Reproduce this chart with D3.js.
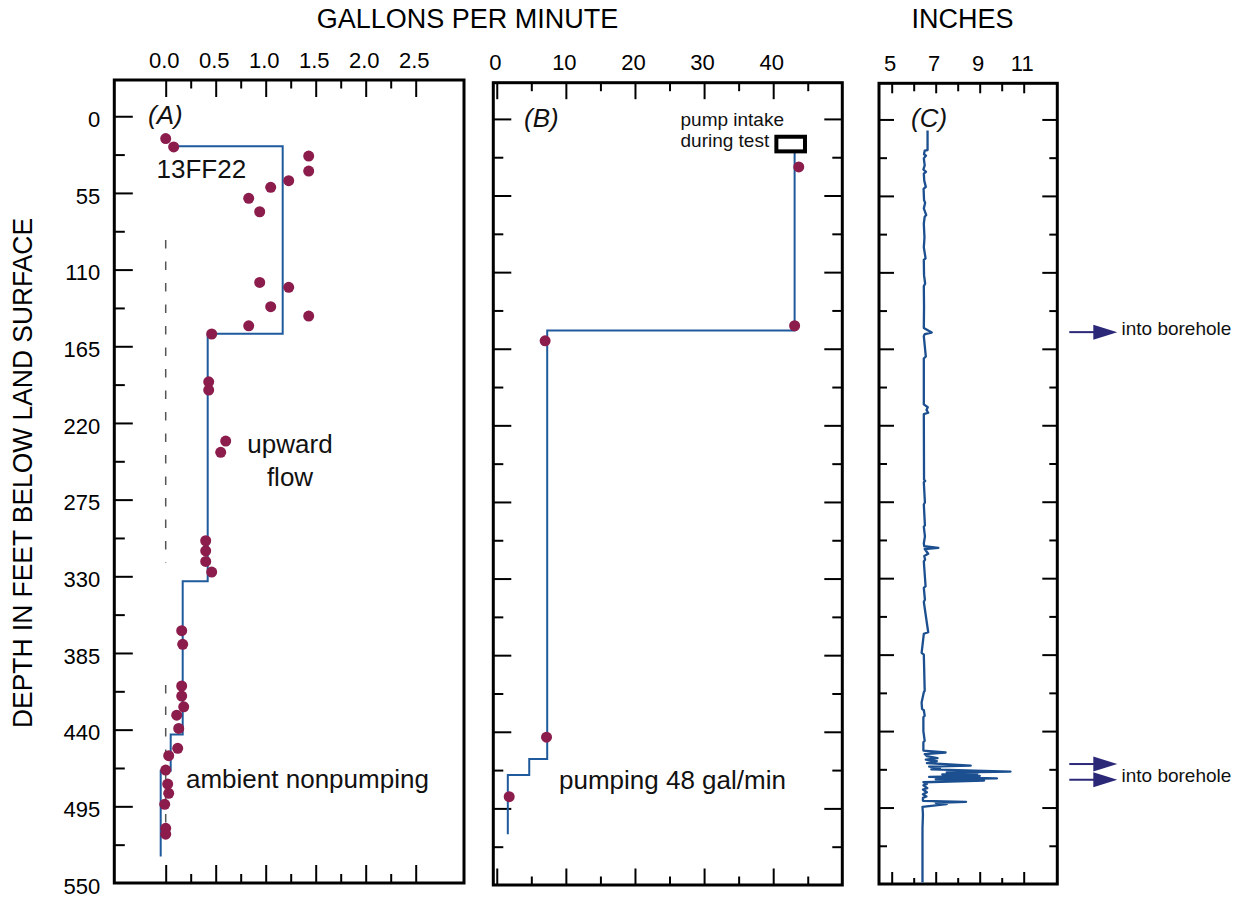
<!DOCTYPE html>
<html>
<head>
<meta charset="utf-8">
<script src="https://cdn.jsdelivr.net/npm/d3@7"></script>
<style>
  html, body { margin: 0; padding: 0; background: #fff; }
  svg { display: block; font-family: "Liberation Sans", Arial, Helvetica, sans-serif; }
</style>
</head>
<body>
<svg id="chart" width="1246" height="902"></svg>
<script>
// ---------------- data ----------------
const depthMajorTicks = [0, 55, 110, 165, 220, 275, 330, 385, 440, 495, 550];
const depthMinorTicks = [27.5, 82.5, 137.5, 192.5, 247.5, 302.5, 357.5, 412.5, 467.5, 522.5];
const gpmTicksA = [0.0, 0.5, 1.0, 1.5, 2.0, 2.5];
const gpmMinorA = [0.25, 0.75, 1.25, 1.75, 2.25];
const gpmTicksB = [0, 10, 20, 30, 40];
const gpmMinorB = [5, 15, 25, 35, 45];
const inchTicks = [5, 7, 9, 11];
const inchMinor = [6, 8, 10];

// (A) ambient nonpumping: measured flow [gal/min, depth ft]
const ambientPoints = [
  [0.00, 16], [0.08, 22], [1.43, 28.6], [1.43, 39.3], [1.23, 46.2], [1.05, 51],
  [0.83, 58.9], [0.94, 68.5], [0.94, 119.2], [1.23, 122.7], [1.05, 136.6], [1.43, 143.3],
  [0.83, 150.3], [0.46, 156.2], [0.43, 190.5], [0.43, 196.4], [0.60, 233], [0.55, 241.1],
  [0.40, 304.5], [0.40, 311.7], [0.40, 319.3], [0.46, 327], [0.16, 369], [0.17, 378.8],
  [0.16, 408.7], [0.16, 415.9], [0.18, 423.6], [0.11, 429.6], [0.13, 439.1], [0.12, 453.4],
  [0.03, 458.7], [0.00, 469], [0.02, 479], [0.03, 485.7], [-0.01, 493.6], [0.00, 510.8], [0.00, 515]
];
const ambientProfile = [
  [0.03, 21.5], [1.17, 21.5], [1.17, 156], [0.42, 156], [0.42, 333.5], [0.17, 333.5],
  [0.17, 443.5], [0.05, 443.5], [0.05, 469.5], [-0.05, 469.5], [-0.05, 531]
];
const zeroFlowDashes = [[88.8, 320.5], [408, 515]];

// (B) pumping 48 gal/min
const pumpingPoints = [[43.7, 34.5], [43.1, 148.5], [7.0, 159.3], [7.2, 443.9], [1.8, 486.6]];
const pumpingProfile = [
  [43.1, 23.3], [43.1, 151.9], [7.3, 151.9], [7.3, 459.5], [4.7, 459.5], [4.7, 471],
  [1.6, 471], [1.6, 513.6]
];
const pumpIntake = { x0: 40.46, x1: 44.6, d0: 12.8, d1: 23.3 };

// (C) caliper log [inches, depth ft]
const caliperLog = [
  [6.63, 8], [6.63, 22], [6.50, 22.5], [6.47, 25], [6.56, 26], [6.46, 28], [6.50, 33], [6.44, 36],
  [6.56, 37.7], [6.46, 39], [6.48, 44], [6.55, 48.5], [6.45, 50], [6.47, 58], [6.52, 60], [6.46, 64],
  [6.57, 68.8], [6.50, 70], [6.46, 75], [6.49, 85], [6.46, 92], [6.54, 99.9], [6.46, 101], [6.47, 112],
  [6.52, 118], [6.46, 120], [6.47, 135], [6.46, 150], [6.82, 153.3], [6.50, 154.5], [6.46, 156],
  [6.55, 170.5], [6.46, 172], [6.46, 205], [6.64, 207], [6.58, 209], [6.66, 211], [6.46, 212],
  [6.47, 259], [6.52, 260], [6.46, 261], [6.51, 275.6], [6.46, 277], [6.51, 292], [6.46, 293],
  [6.51, 300], [6.46, 305], [6.48, 307], [7.12, 308.2], [6.50, 309], [6.66, 312.4], [6.48, 314],
  [6.52, 316.7], [6.46, 318], [6.54, 335.8], [6.46, 337], [6.51, 345.5], [6.46, 347], [6.66, 368.9],
  [6.46, 370], [6.36, 383.7], [6.46, 385], [6.50, 411], [6.46, 412], [6.36, 419.5], [6.38, 424],
  [6.46, 425], [6.50, 429], [6.44, 430], [6.44, 440], [6.50, 447], [6.44, 448], [6.44, 454],
  [7.45, 455.4], [6.50, 456.5], [6.60, 458], [7.08, 459.5], [6.55, 460.5], [7.05, 461.6], [6.60, 463],
  [8.59, 464.8], [6.70, 465.5], [7.20, 466.4], [6.80, 467.5], [10.40, 469.1], [7.50, 469.8],
  [8.90, 470.5], [7.30, 471.2], [9.00, 472.2], [6.70, 473], [9.78, 474], [7.00, 474.8], [9.20, 475.6],
  [6.44, 476.8], [6.60, 478], [6.44, 479], [6.62, 481], [6.42, 482], [6.60, 484], [6.42, 485.5],
  [6.58, 487], [6.42, 488], [6.42, 490.2], [8.38, 490.9], [7.00, 491.6], [7.50, 492.6], [6.40, 494.5],
  [6.42, 500], [6.40, 510], [6.40, 549]
];
const inflowDepths = [[153], [463.7, 475]];

// ---------------- layout ----------------
const svg = d3.select("#chart");
const FONT = '"Liberation Sans", Arial, Helvetica, sans-serif';
const DOT = "#8b1c4c", LINE = "#1f5a9c", TRACE = "#1b4f8f", ARROW = "#2b2878";

const panels = {
  A: { x: d3.scaleLinear().domain([-0.514, 2.983]).range([114.3, 464]),
       y: d3.scaleLinear().domain([-26, 550]).range([80, 883]) },
  B: { x: d3.scaleLinear().domain([-0.5, 50]).range([493.3, 842.3]),
       y: d3.scaleLinear().domain([-26, 550]).range([82.7, 885]) },
  C: { x: d3.scaleLinear().domain([4.423, 12.527]).range([879, 1057.3]),
       y: d3.scaleLinear().domain([-26, 550]).range([83.3, 884]) }
};

function styleAxis(g, size) {
  g.select(".domain").remove();
  g.selectAll(".tick line").attr("stroke", "#000").attr("stroke-width", 2);
  g.selectAll(".tick text").attr("fill", "#000").style("font-family", FONT).style("font-size", size + "px");
}

function drawFrame(p, opts) {
  const [x0, x1] = p.x.range(), [y0, y1] = p.y.range();
  const g = svg.append("g");
  // x ticks top (major + minor)
  const topMaj = g.append("g").attr("transform", `translate(0,${y0})`)
    .call(d3.axisTop(p.x).tickValues(opts.xMajor).tickSize(-opts.xMajLen)
      .tickPadding(12.5).tickFormat(opts.xFormat));
  styleAxis(topMaj, 22);
  topMaj.selectAll(".tick text").attr("dx", -2);
  const topMin = g.append("g").attr("transform", `translate(0,${y0})`)
    .call(d3.axisTop(p.x).tickValues(opts.xMinor).tickSize(-opts.xMinLen).tickFormat(""));
  styleAxis(topMin, 22);
  // x ticks bottom
  const botMaj = g.append("g").attr("transform", `translate(0,${y1})`)
    .call(d3.axisBottom(p.x).tickValues(opts.xMajor).tickSize(-opts.xMajBot).tickFormat(""));
  styleAxis(botMaj, 22);
  const botMin = g.append("g").attr("transform", `translate(0,${y1})`)
    .call(d3.axisBottom(p.x).tickValues(opts.xMinor).tickSize(-opts.xMinBot).tickFormat(""));
  styleAxis(botMin, 22);
  // y ticks left
  const yMaj = depthMajorTicks.filter(d => d < 550);
  const leftMaj = g.append("g").attr("transform", `translate(${x0},0)`)
    .call(d3.axisLeft(p.y).tickValues(opts.yLabels ? depthMajorTicks : yMaj).tickSize(-opts.yMajLen)
      .tickPadding(14).tickFormat(opts.yLabels ? d3.format("d") : ""));
  styleAxis(leftMaj, 22);
  leftMaj.selectAll(".tick text").attr("dy", "0.47em");
  leftMaj.selectAll(".tick").filter(d => d === 550).select("line").remove();
  const leftMin = g.append("g").attr("transform", `translate(${x0},0)`)
    .call(d3.axisLeft(p.y).tickValues(depthMinorTicks).tickSize(-opts.yMinLen).tickFormat(""));
  styleAxis(leftMin, 22);
  if (opts.rightTicks) {
    const rightMaj = g.append("g").attr("transform", `translate(${x1},0)`)
      .call(d3.axisRight(p.y).tickValues(yMaj).tickSize(-opts.yMajLen).tickFormat(""));
    styleAxis(rightMaj, 22);
    const rightMin = g.append("g").attr("transform", `translate(${x1},0)`)
      .call(d3.axisRight(p.y).tickValues(depthMinorTicks).tickSize(-opts.yMinLen).tickFormat(""));
    styleAxis(rightMin, 22);
  }
  g.append("rect").attr("x", x0).attr("y", y0).attr("width", x1 - x0).attr("height", y1 - y0)
    .attr("fill", "none").attr("stroke", "#000").attr("stroke-width", 3);
}

drawFrame(panels.A, { xMajor: gpmTicksA, xMinor: gpmMinorA, xFormat: d3.format(".1f"),
  xMajLen: 17, xMinLen: 8.5, xMajBot: 18, xMinBot: 9, yMajLen: 18.5, yMinLen: 10.5, yLabels: true, rightTicks: false });
drawFrame(panels.B, { xMajor: gpmTicksB, xMinor: gpmMinorB, xFormat: d3.format("d"),
  xMajLen: 16.5, xMinLen: 8.5, xMajBot: 16.5, xMinBot: 8.5, yMajLen: 18, yMinLen: 10, yLabels: false, rightTicks: true });
drawFrame(panels.C, { xMajor: inchTicks, xMinor: inchMinor, xFormat: d3.format("d"),
  xMajLen: 10, xMinLen: 8, xMajBot: 12, xMinBot: 6, yMajLen: 15, yMinLen: 8, yLabels: false, rightTicks: true });

// ---------------- titles ----------------
svg.append("text").attr("x", 467.5).attr("y", 28).attr("text-anchor", "middle")
  .style("font-family", FONT).style("font-size", "27px").text("GALLONS PER MINUTE");
svg.append("text").attr("x", 962.5).attr("y", 28).attr("text-anchor", "middle")
  .style("font-family", FONT).style("font-size", "27px").text("INCHES");
svg.append("text").attr("transform", "translate(31.5,473) rotate(-90)").attr("text-anchor", "middle")
  .attr("textLength", 510).attr("lengthAdjust", "spacingAndGlyphs")
  .style("font-family", FONT).style("font-size", "28px").text("DEPTH IN FEET BELOW LAND SURFACE");

function label(x, y, txt, size, extra) {
  const t = svg.append("text").attr("x", x).attr("y", y)
    .style("font-family", FONT).style("font-size", size + "px").attr("fill", "#111").text(txt);
  if (extra) extra(t);
  return t;
}
const italic = t => t.style("font-style", "italic");
label(148, 124, "(A)", 26, italic);
label(524, 127, "(B)", 26, italic);
label(911, 127, "(C)", 26, italic);

// ---------------- panel A ----------------
const A = panels.A;
const gA = svg.append("g");
zeroFlowDashes.forEach(([d0, d1]) => {
  gA.append("line").attr("x1", A.x(0)).attr("x2", A.x(0)).attr("y1", A.y(d0)).attr("y2", A.y(d1))
    .attr("stroke", "#555").attr("stroke-width", 1.5).attr("stroke-dasharray", "8.5,13");
});
gA.append("path").datum(ambientProfile)
  .attr("d", d3.line().x(d => A.x(d[0])).y(d => A.y(d[1])))
  .attr("fill", "none").attr("stroke", LINE).attr("stroke-width", 2);
gA.selectAll("circle").data(ambientPoints).join("circle")
  .attr("cx", d => A.x(d[0])).attr("cy", d => A.y(d[1])).attr("r", 5.5).attr("fill", DOT);
label(156.5, 178.3, "13FF22", 26);
label(290, 453.3, "upward", 26, t => t.attr("text-anchor", "middle"));
label(290, 485.7, "flow", 26, t => t.attr("text-anchor", "middle"));
label(186, 787.5, "ambient nonpumping", 26);

// ---------------- panel B ----------------
const B = panels.B;
const gB = svg.append("g");
gB.append("path").datum(pumpingProfile)
  .attr("d", d3.line().x(d => B.x(d[0])).y(d => B.y(d[1])))
  .attr("fill", "none").attr("stroke", LINE).attr("stroke-width", 2);
gB.selectAll("circle").data(pumpingPoints).join("circle")
  .attr("cx", d => B.x(d[0])).attr("cy", d => B.y(d[1])).attr("r", 5.5).attr("fill", DOT);
gB.append("rect").attr("x", B.x(pumpIntake.x0)).attr("y", B.y(pumpIntake.d0))
  .attr("width", B.x(pumpIntake.x1) - B.x(pumpIntake.x0)).attr("height", B.y(pumpIntake.d1) - B.y(pumpIntake.d0))
  .attr("fill", "#fff").attr("stroke", "#000").attr("stroke-width", 4);
label(680.5, 126, "pump intake", 19);
label(680.5, 146.7, "during test", 19);
label(559, 789.3, "pumping 48 gal/min", 26);

// ---------------- panel C ----------------
const C = panels.C;
svg.append("path").datum(caliperLog)
  .attr("d", d3.line().x(d => C.x(d[0])).y(d => C.y(d[1])))
  .attr("fill", "none").attr("stroke", TRACE).attr("stroke-width", 2.3).attr("stroke-linejoin", "round");

// inflow arrows
function arrow(y) {
  svg.append("line").attr("x1", 1069.3).attr("x2", 1094).attr("y1", y).attr("y2", y)
    .attr("stroke", ARROW).attr("stroke-width", 2);
  svg.append("path").attr("d", `M1093.3,${y - 7.5}L1117.3,${y}L1093.3,${y + 7.5}Z`).attr("fill", ARROW);
}
inflowDepths.forEach(group => {
  group.forEach(d => arrow(C.y(d)));
  const yText = group.length === 1 ? C.y(group[0]) + 2.7 : (C.y(group[0]) + C.y(group[1])) / 2 + 10.5;
  label(1121.5, yText, "into borehole", 19);
});
</script>
</body>
</html>
